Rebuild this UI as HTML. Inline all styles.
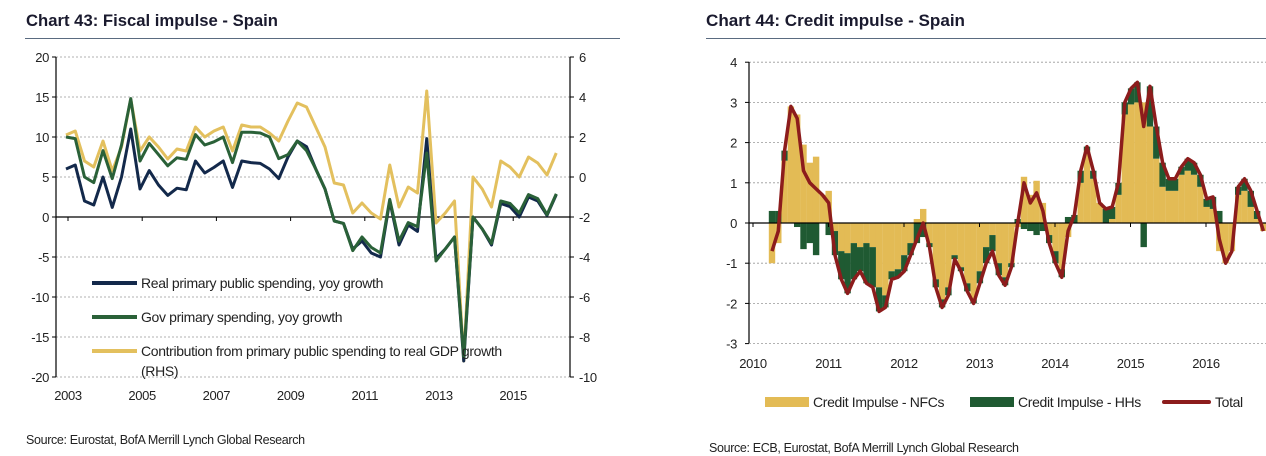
<!DOCTYPE html>
<html><head><meta charset="utf-8"><style>
body{margin:0;background:#fff;width:1266px;height:456px;overflow:hidden}
svg{display:block;font-family:"Liberation Sans",sans-serif}
.lg{letter-spacing:-0.35px}
</style></head><body>
<svg id="s" width="1266" height="456" viewBox="0 0 1266 456">
<text x="26" y="26" font-size="17" font-weight="bold" fill="#1a1a2e" textLength="252" lengthAdjust="spacingAndGlyphs">Chart 43: Fiscal impulse - Spain</text>
<line x1="25" y1="38.5" x2="620" y2="38.5" stroke="#5a6b80"/>
<text x="706" y="26" font-size="17" font-weight="bold" fill="#1a1a2e" textLength="259" lengthAdjust="spacingAndGlyphs">Chart 44: Credit impulse - Spain</text>
<line x1="706" y1="38.5" x2="1266" y2="38.5" stroke="#5a6b80"/>
<g id="c1"></g>
<g id="c2"></g>
<text x="26" y="444" font-size="12.5" fill="#222" class="lg">Source: Eurostat, BofA Merrill Lynch Global Research</text>
<text x="709" y="452" font-size="12.5" fill="#222" class="lg">Source: ECB, Eurostat, BofA Merrill Lynch Global Research</text>
</svg>
<script>
// Chart 43 data (quarterly from 2003Q1)
const realSpend=[6,6.5,2,1.5,5,1.2,5,11,3.5,5.8,4,2.7,3.6,3.4,7,5.5,6.2,7,3.7,7,6.8,6.7,6,4.8,7.5,9.5,8.8,6,3.5,-0.5,-0.8,-4,-3,-4.5,-5,2,-3.5,-1,-1.8,9.8,-5.2,-4,-2.5,-18,0,-1.5,-3.5,1.7,1.3,0,2.5,2,0.2,2.8];
const govSpend=[10,9.8,5,4.3,8.3,4.8,9,14.8,7,9.2,7.8,6.4,7.4,7.2,10.3,9,9.4,10,6.8,10.6,10.6,10.5,10,7.3,7.8,9.5,8.3,6,3.5,-0.5,-0.8,-4.2,-2.5,-3.8,-4.5,2.2,-3,-0.7,-1.2,8,-5.5,-4,-2.5,-17.5,0,-1.5,-3.3,2,1.7,0.5,2.8,2.3,0.3,2.9];
const contribRHS=[2.1,2.3,0.8,0.5,1.8,0.3,1.5,3.9,1.3,2,1.5,0.9,1.4,1.3,2.5,2.0,2.3,2.5,1.3,2.6,2.5,2.5,2.2,1.8,2.8,3.7,3.5,2.5,1.5,-0.3,-0.4,-1.8,-1.3,-1.8,-2.1,0.6,-1.5,-0.5,-0.8,4.3,-2.3,-1.8,-1.2,-9.2,0,-0.6,-1.5,0.8,0.5,0,1.0,0.7,0.1,1.2];
const leftTicks=[20,15,10,5,0,-5,-10,-15,-20];
const rightTicks=[6,4,2,0,-2,-4,-6,-8,-10];
const yearTicks1=[2003,2005,2007,2009,2011,2013,2015];
// Chart 44 data (monthly from Apr 2010)
const totalImpulse=[-0.7,-0.2,1.8,2.9,2.6,1.3,1.0,0.85,0.7, 0.5,-0.8,-1.4,-1.75,-1.4,-1.2,-1.5,-1.6,-2.2,-2.1,-1.4,-1.35, -1.2,-0.8,-0.4,0,-0.6,-1.6,-2.1,-1.8,-0.9,-1.2,-1.7,-2.0, -1.5,-1.0,-0.7,-1.3,-1.55,-1.1,0,1.0,0.5,0.75,0.3,-0.5, -1.0,-1.35,-0.2,0.2,1.3,1.9,1.3,0.5,0.35,0.4,1.0,3.0, 3.35,3.5,2.4,3.4,2.4,1.5,1.1,1.1,1.4,1.6,1.5,1.2, 0.6,0.65,-0.4,-1.0,-0.7,0.9,1.1,0.8,0.3,-0.2];
const hhImpulse=[0.3,0.3,0.25,0,-0.1,-0.65,-0.5,-0.8,0, -0.3,-0.6,-0.7,-1.0,-0.9,-0.6,-1.0,-1.0,-0.6,-0.3,-0.2,-0.2, -0.4,-0.3,-0.5,-0.35,-0.1,-0.2,-0.2,-0.2,-0.1,-0.1,-0.2,-0.1, -0.3,-0.4,-0.4,-0.3,-0.2,-0.1,0.1,-0.15,-0.2,-0.3,-0.2,-0.2, -0.3,-0.2,0.15,0.2,0.3,0.1,0.2,0,0.35,0.3,0.3,0.3, 0.4,0.5,-0.6,1.0,0.8,0.6,0.3,0.3,0.2,0.3,0.3,0.3, 0.2,0.3,0.3,0,0,0.2,0.3,0.4,0.2,0];
const nfcImpulse=totalImpulse.map((t,i)=>+(t-hhImpulse[i]).toFixed(2));
const yTicks2=[4,3,2,1,0,-1,-2,-3];
const yearTicks2=[2010,2011,2012,2013,2014,2015,2016];

const NS='http://www.w3.org/2000/svg';
function mk(parent,tag,attrs){const e=document.createElementNS(NS,tag);for(const k in attrs)e.setAttribute(k,attrs[k]);parent.appendChild(e);return e;}
function txt(parent,x,y,s,anchor,size){const t=mk(parent,'text',{x:x,y:y,'font-size':size||13,fill:'#222','text-anchor':anchor||'start','class':'lg'});t.textContent=s;return t;}

// ---- Chart 43 ----
const c1=document.getElementById('c1');
const yL=v=>217-v*8, yR=v=>217-(v+2)*20, xQ=i=>66+i*9.25, xYear1=y=>68+(y-2003)*37.1;
leftTicks.forEach(v=>{
  if(v!==0){const g=mk(c1,'line',{x1:56,x2:570,y1:yL(v),y2:yL(v),stroke:'#999','stroke-dasharray':'2,2','stroke-width':0.8});
  
  }
  mk(c1,'line',{x1:52,x2:56,y1:yL(v),y2:yL(v),stroke:'#000'});
  const t=txt(c1,49,yL(v)+5,String(v),'end');
  
  
});
rightTicks.forEach(v=>{
  mk(c1,'line',{x1:570,x2:574,y1:yR(v),y2:yR(v),stroke:'#000'});
  const t=txt(c1,579,yR(v)+5,String(v),'start');
  
  
});
mk(c1,'line',{x1:56,x2:56,y1:57,y2:377,stroke:'#000','stroke-width':1.2});
mk(c1,'line',{x1:570,x2:570,y1:57,y2:377,stroke:'#000','stroke-width':1.2});
mk(c1,'line',{x1:56,x2:570,y1:217,y2:217,stroke:'#000','stroke-width':1.3});
yearTicks1.forEach(y=>{
  mk(c1,'line',{x1:xYear1(y),x2:xYear1(y),y1:217,y2:221,stroke:'#000'});
  const t=txt(c1,xYear1(y),400,String(y),'middle');
  
  
});
function poly(parent,arr,xf,yf,color,w,name){
  const p=mk(parent,'polyline',{points:arr.map((v,i)=>xf(i)+','+yf(v)).join(' '),fill:'none',stroke:color,'stroke-width':w,'stroke-linejoin':'round'});
  
  
}
poly(c1,contribRHS,xQ,yR,'#e3c05e',3,'contribution-rhs-line');
poly(c1,realSpend,xQ,yL,'#13294b',3,'real-spending-line');
poly(c1,govSpend,xQ,yL,'#2a6138',3,'gov-spending-line');
[['#13294b','Real primary public spending, yoy growth',288],['#2a6138','Gov primary spending, yoy growth',322],['#e3c05e','Contribution from primary public spending to real GDP growth',356]].forEach(l=>{
  mk(c1,'line',{x1:92,x2:137,y1:l[2]-5,y2:l[2]-5,stroke:l[0],'stroke-width':4});
  const t=txt(c1,141,l[2],l[1],'start',14);
  
  
});
txt(c1,141,376,'(RHS)','start',14);

// ---- Chart 44 ----
const c2=document.getElementById('c2');
const y2=v=>223-v*40.2, xM=i=>772+i*6.3, xYear2=y=>753+(y-2010)*75.5;
yTicks2.forEach(v=>{
  if(v!==0){const g=mk(c2,'line',{x1:749,x2:1266,y1:y2(v),y2:y2(v),stroke:'#999','stroke-dasharray':'2,2','stroke-width':0.8});
  
  }
  mk(c2,'line',{x1:745,x2:749,y1:y2(v),y2:y2(v),stroke:'#000'});
  const t=txt(c2,737,y2(v)+5,String(v),'end');
  
  
});
const bw=6.4;
nfcImpulse.forEach((n,i)=>{
  const h=hhImpulse[i];let pos=0,neg=0;
  [[n,'#e3bb55','bar-nfc'],[h,'#1f5a32','bar-hh']].forEach(s=>{
    const v=s[0];let a,b;
    if(v>=0){a=pos;b=pos+v;pos=b;}else{a=neg;b=neg+v;neg=b;}
    const r=mk(c2,'rect',{x:xM(i)-bw/2,y:Math.min(y2(a),y2(b)),width:bw,height:Math.abs(y2(a)-y2(b)),fill:s[1]});
    
    
  });
});
mk(c2,'line',{x1:749,x2:749,y1:62,y2:343,stroke:'#000','stroke-width':1.2});
mk(c2,'line',{x1:749,x2:1266,y1:223,y2:223,stroke:'#000','stroke-width':1.3});
yearTicks2.forEach(y=>{
  mk(c2,'line',{x1:xYear2(y),x2:xYear2(y),y1:223,y2:227,stroke:'#000'});
  const t=txt(c2,xYear2(y),368,String(y),'middle');
  
  
});
poly(c2,totalImpulse,xM,y2,'#8c1c1c',3.5,'total-line');
[['rect','#e3bb55',765,'Credit Impulse - NFCs',813],['rect','#1f5a32',970,'Credit Impulse - HHs',1018],['line','#8c1c1c',1164,'Total',1215]].forEach(l=>{
  if(l[0]==='rect')mk(c2,'rect',{x:l[2],y:397,width:44,height:10,fill:l[1]});
  else mk(c2,'line',{x1:l[2],x2:l[2]+45,y1:402,y2:402,stroke:l[1],'stroke-width':4,'stroke-linecap':'round'});
  const t=txt(c2,l[4],407,l[3],'start',14);
  
  
});
</script>
</body></html>
